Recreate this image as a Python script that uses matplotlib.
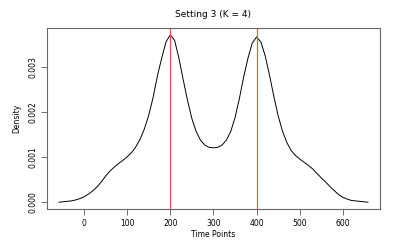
import matplotlib
matplotlib.use("Agg")
import matplotlib.pyplot as plt

# density curve
time_pts = [-58, -50, -40, -30, -20, -10, 0, 10, 20, 30, 40, 50, 60, 70, 80, 90,
            100, 110, 120, 130, 140, 150, 160, 170, 180, 190, 200, 210, 220, 230,
            240, 250, 260, 270, 280, 290, 300, 310, 320, 330, 340, 350, 360, 370,
            380, 390, 400, 410, 420, 430, 440, 450, 460, 470, 480, 490, 500, 510,
            520, 530, 540, 550, 560, 570, 580, 590, 600, 610, 620, 630, 640, 650, 658]
density = [0.00000, 0.00001, 0.00002, 0.00003, 0.00005, 0.00008, 0.00012, 0.00018,
           0.00025, 0.00034, 0.00045, 0.00058, 0.00069, 0.00078, 0.00086, 0.00093,
           0.00101, 0.00110, 0.00123, 0.00140, 0.00163, 0.00193, 0.00232, 0.00280,
           0.00320, 0.00356, 0.00372, 0.00360, 0.00320, 0.00272, 0.00226, 0.00186,
           0.00157, 0.00138, 0.00127, 0.00122, 0.00121, 0.00122, 0.00127, 0.00138,
           0.00157, 0.00188, 0.00230, 0.00278, 0.00320, 0.00354, 0.00367, 0.00356,
           0.00325, 0.00282, 0.00235, 0.00192, 0.00158, 0.00133, 0.00115, 0.00104,
           0.00096, 0.00089, 0.00082, 0.00074, 0.00064, 0.00054, 0.00045, 0.00035,
           0.00026, 0.00017, 0.00011, 0.00007, 0.00004, 0.00003, 0.00002, 0.00001,
           0.00000]
change_pts = [200, 400]
xticks = [0, 100, 200, 300, 400, 500, 600]
yticks = [0.000, 0.001, 0.002, 0.003]

fig = plt.figure(figsize=(4.05, 2.45), dpi=100)
ax = fig.add_axes([0.116, 0.147, 0.822, 0.739])

ax.plot(time_pts, density, color="black", lw=0.7)
for cp in change_pts:
    ax.axvline(cp, color="#ff5050", lw=0.9)

ax.set_xlim(-85.7, 685.7)
ax.set_ylim(-0.000149, 0.003873)
ax.set_xticks(xticks)
ax.set_xticklabels([str(t) for t in xticks], fontsize=5.5)
ax.set_yticks(yticks)
ax.set_yticklabels(["%.3f" % t for t in yticks], fontsize=5.5, rotation=90, va="center")
ax.tick_params(direction="out", length=4, width=0.6, color="#555555", pad=3)

for s in ax.spines.values():
    s.set_color("#666666")
    s.set_linewidth(0.8)

ax.set_title("Setting 3 (K = 4)", fontsize=6.5, pad=8)
ax.set_xlabel("Time Points", fontsize=5.5, labelpad=2)
ax.set_ylabel("Density", fontsize=5.5, labelpad=5)

fig.savefig("out.png", dpi=100)
